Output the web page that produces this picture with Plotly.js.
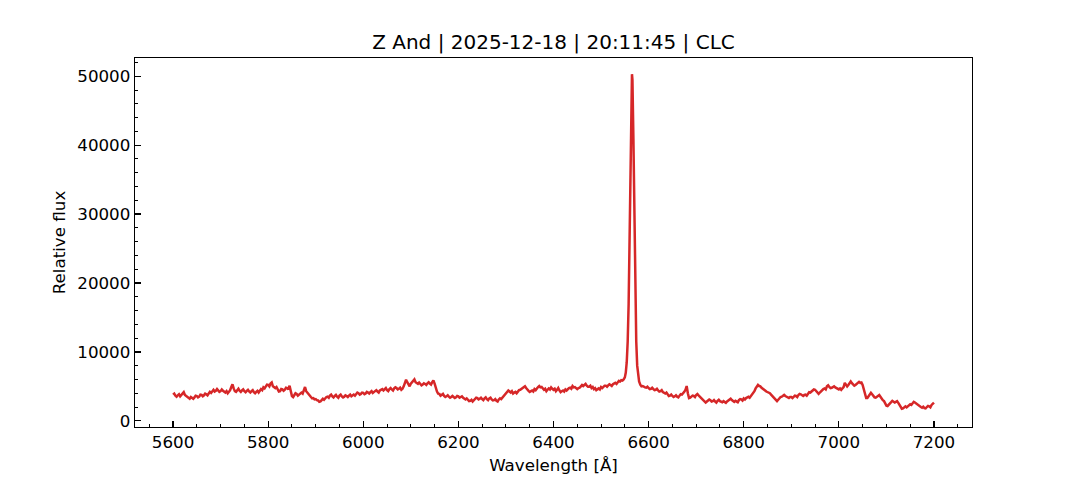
<!DOCTYPE html>
<html>
<head>
<meta charset="utf-8">
<script src="https://cdn.plot.ly/plotly-3.0.1.min.js"></script>
<style>html,body{margin:0;padding:0;background:#fff;}#chart{width:1080px;height:480px;}</style>
</head>
<body>
<div id="chart"></div>
<script>
const titleText = "Z And | 2025-12-18 | 20:11:45 | CLC";
const xLabel = "Wavelength [Å]";
const yLabel = "Relative flux";

// Blue side continuum (5600 - 6547.5 Å)
const wavelengthBlue = [
5600,5602.5,5605,5607.5,5610,5612.5,5615,5617.5,5620,5622.5,
5625,5627.5,5630,5632.5,5635,5637.5,5640,5642.5,5645,5647.5,
5650,5652.5,5655,5657.5,5660,5662.5,5665,5667.5,5670,5672.5,
5675,5677.5,5680,5682.5,5685,5687.5,5690,5692.5,5695,5697.5,
5700,5702.5,5705,5707.5,5710,5712.5,5715,5717.5,5720,5722.5,
5725,5727.5,5730,5732.5,5735,5737.5,5740,5742.5,5745,5747.5,
5750,5752.5,5755,5757.5,5760,5762.5,5765,5767.5,5770,5772.5,
5775,5777.5,5780,5782.5,5785,5787.5,5790,5792.5,5795,5797.5,
5800,5802.5,5805,5807.5,5810,5812.5,5815,5817.5,5820,5822.5,
5825,5827.5,5830,5832.5,5835,5837.5,5840,5842.5,5845,5847.5,
5850,5852.5,5855,5857.5,5860,5862.5,5865,5867.5,5870,5872.5,
5875,5877.5,5880,5882.5,5885,5887.5,5890,5892.5,5895,5897.5,
5900,5902.5,5905,5907.5,5910,5912.5,5915,5917.5,5920,5922.5,
5925,5927.5,5930,5932.5,5935,5937.5,5940,5942.5,5945,5947.5,
5950,5952.5,5955,5957.5,5960,5962.5,5965,5967.5,5970,5972.5,
5975,5977.5,5980,5982.5,5985,5987.5,5990,5992.5,5995,5997.5,
6000,6002.5,6005,6007.5,6010,6012.5,6015,6017.5,6020,6022.5,
6025,6027.5,6030,6032.5,6035,6037.5,6040,6042.5,6045,6047.5,
6050,6052.5,6055,6057.5,6060,6062.5,6065,6067.5,6070,6072.5,
6075,6077.5,6080,6082.5,6085,6087.5,6090,6092.5,6095,6097.5,
6100,6102.5,6105,6107.5,6110,6112.5,6115,6117.5,6120,6122.5,
6125,6127.5,6130,6132.5,6135,6137.5,6140,6142.5,6145,6147.5,
6150,6152.5,6155,6157.5,6160,6162.5,6165,6167.5,6170,6172.5,
6175,6177.5,6180,6182.5,6185,6187.5,6190,6192.5,6195,6197.5,
6200,6202.5,6205,6207.5,6210,6212.5,6215,6217.5,6220,6222.5,
6225,6227.5,6230,6232.5,6235,6237.5,6240,6242.5,6245,6247.5,
6250,6252.5,6255,6257.5,6260,6262.5,6265,6267.5,6270,6272.5,
6275,6277.5,6280,6282.5,6285,6287.5,6290,6292.5,6295,6297.5,
6300,6302.5,6305,6307.5,6310,6312.5,6315,6317.5,6320,6322.5,
6325,6327.5,6330,6332.5,6335,6337.5,6340,6342.5,6345,6347.5,
6350,6352.5,6355,6357.5,6360,6362.5,6365,6367.5,6370,6372.5,
6375,6377.5,6380,6382.5,6385,6387.5,6390,6392.5,6395,6397.5,
6400,6402.5,6405,6407.5,6410,6412.5,6415,6417.5,6420,6422.5,
6425,6427.5,6430,6432.5,6435,6437.5,6440,6442.5,6445,6447.5,
6450,6452.5,6455,6457.5,6460,6462.5,6465,6467.5,6470,6472.5,
6475,6477.5,6480,6482.5,6485,6487.5,6490,6492.5,6495,6497.5,
6500,6502.5,6505,6507.5,6510,6512.5,6515,6517.5,6520,6522.5,
6525,6527.5,6530,6532.5,6535,6537.5,6540,6542.5,6545,6547.5
];
const fluxBlue = [
3800,3950,3650,3500,3700,3850,3550,3800,4000,4150,
3750,3600,3450,3300,3200,3450,3350,3200,3400,3650,
3600,3400,3500,3800,3750,3550,3700,3950,3850,3700,
3950,4200,4050,4300,4500,4250,4350,4600,4450,4200,
4300,4550,4350,4150,4100,4300,4000,4200,4450,4900,
5300,4700,4300,4200,4500,4650,4350,4200,4400,4550,
4300,4150,4350,4500,4250,4100,4300,4450,4150,4000,
4200,4350,4100,4350,4600,4450,4850,4700,5000,5250,
5200,5000,5400,5550,5000,4850,4750,4900,4450,4250,
4300,4600,4550,4350,4500,4800,4750,4550,5100,4300,
3600,3450,3750,4000,3900,3650,3800,4000,4100,3950,
4500,4900,4300,4050,3900,3650,3450,3250,3300,3100,
3150,3000,2950,2750,2800,3000,3200,3050,3300,3450,
3500,3350,3650,3800,3550,3400,3600,3750,3500,3350,
3650,3800,3550,3400,3500,3700,3600,3450,3650,3800,
3550,3700,3800,3650,3950,4100,4000,3800,3900,4100,
4050,3850,3950,4200,4100,3950,4150,4300,4050,4200,
4300,4450,4250,4100,4400,4550,4600,4400,4550,4750,
4450,4300,4600,4750,4550,4400,4700,4850,4750,4550,
4650,4800,4500,4650,5000,5500,5950,5600,5200,5000,
5400,5650,5800,6000,5600,5450,5350,5550,5300,5150,
5250,5450,5350,5200,5450,5600,5400,5250,5600,5850,
5400,4600,4250,3950,3900,3650,3750,3900,3600,3450,
3550,3700,3500,3350,3450,3600,3450,3300,3400,3600,
3550,3350,3450,3550,3350,3200,3100,3250,3000,2850,
2900,3050,2800,2950,3100,3350,3300,3100,3200,3350,
3150,3000,3250,3400,3150,3000,3250,3350,3100,2950,
3000,3150,2900,2800,3100,3250,3150,3350,3600,3850,
4000,4300,4400,4250,4100,4300,3950,4100,4200,4000,
4250,4450,4500,4650,4800,4950,5000,4750,4500,4350,
4200,4350,4400,4250,4600,4450,4750,4900,5050,4850,
4900,4700,4500,4650,4300,4500,4700,4550,4850,4650,
4500,4650,4300,4500,4750,4400,4150,4300,4400,4250,
4550,4400,4600,4750,4800,4650,5050,4850,4900,4750,
4600,4750,4800,5000,5200,5050,5250,5350,5100,4950,
4950,5100,4750,4900,4600,4750,4450,4600,4700,4550,
4900,4750,4950,5100,5100,4950,5150,5300,5200,5050,
5300,5450,5500,5350,5650,5800,5700,5900,5850,6000
];

// H-alpha emission line (6550 - 6582.5 Å)
const wavelengthHalpha = [6550,6552,6554,6556,6558,6560,6562,6564,6565,6566,6568,6570,6572,6574,6576,6578,6580,6582.5];
const fluxHalpha = [6300,7000,8500,11500,17000,25000,36000,46500,50300,49500,41000,29000,18500,11500,8000,6400,5700,5250];

// Red side continuum (6585 - 7200 Å)
const wavelengthRed = [
6585,6587.5,6590,6592.5,6595,6597.5,6600,6602.5,6605,6607.5,
6610,6612.5,6615,6617.5,6620,6622.5,6625,6627.5,6630,6632.5,
6635,6637.5,6640,6642.5,6645,6647.5,6650,6652.5,6655,6657.5,
6660,6662.5,6665,6667.5,6670,6672.5,6675,6677.5,6680,6682.5,
6685,6687.5,6690,6692.5,6695,6697.5,6700,6702.5,6705,6707.5,
6710,6712.5,6715,6717.5,6720,6722.5,6725,6727.5,6730,6732.5,
6735,6737.5,6740,6742.5,6745,6747.5,6750,6752.5,6755,6757.5,
6760,6762.5,6765,6767.5,6770,6772.5,6775,6777.5,6780,6782.5,
6785,6787.5,6790,6792.5,6795,6797.5,6800,6802.5,6805,6807.5,
6810,6812.5,6815,6817.5,6820,6822.5,6825,6827.5,6830,6832.5,
6835,6837.5,6840,6842.5,6845,6847.5,6850,6852.5,6855,6857.5,
6860,6862.5,6865,6867.5,6870,6872.5,6875,6877.5,6880,6882.5,
6885,6887.5,6890,6892.5,6895,6897.5,6900,6902.5,6905,6907.5,
6910,6912.5,6915,6917.5,6920,6922.5,6925,6927.5,6930,6932.5,
6935,6937.5,6940,6942.5,6945,6947.5,6950,6952.5,6955,6957.5,
6960,6962.5,6965,6967.5,6970,6972.5,6975,6977.5,6980,6982.5,
6985,6987.5,6990,6992.5,6995,6997.5,7000,7002.5,7005,7007.5,
7010,7012.5,7015,7017.5,7020,7022.5,7025,7027.5,7030,7032.5,
7035,7037.5,7040,7042.5,7045,7047.5,7050,7052.5,7055,7057.5,
7060,7062.5,7065,7067.5,7070,7072.5,7075,7077.5,7080,7082.5,
7085,7087.5,7090,7092.5,7095,7097.5,7100,7102.5,7105,7107.5,
7110,7112.5,7115,7117.5,7120,7122.5,7125,7127.5,7130,7132.5,
7135,7137.5,7140,7142.5,7145,7147.5,7150,7152.5,7155,7157.5,
7160,7162.5,7165,7167.5,7170,7172.5,7175,7177.5,7180,7182.5,
7185,7187.5,7190,7192.5,7195,7197.5,7200
];
const fluxRed = [
5000,5050,4900,4850,4800,4950,4750,4600,4650,4800,
4600,4450,4500,4650,4400,4250,4300,4450,4150,4000,
3950,4100,3750,3600,3650,3800,3600,3450,3550,3700,
3500,3400,3650,3850,3800,3950,4200,4500,5050,4000,
3300,3350,3500,3650,3600,3450,3750,3900,3700,3500,
3300,3100,3000,2800,2650,2800,2900,3100,3000,2800,
2850,3000,2800,2650,2900,3050,2850,2750,2700,2850,
2650,2600,2800,2950,3100,3200,3000,2850,2750,2900,
2850,2700,3000,3150,3100,2950,3250,3100,3300,3450,
3500,3350,3600,3800,4000,4300,4700,5000,5200,5050,
5000,4800,4700,4500,4400,4250,4200,4050,4000,3800,
3600,3450,3300,3100,2850,3050,3300,3450,3500,3650,
3750,3600,3500,3350,3300,3450,3450,3300,3500,3650,
3600,3450,3750,3900,3850,3700,3600,3750,3800,3650,
4000,4150,4100,4250,4400,4550,4500,4250,4050,3900,
4100,4300,4450,4600,4700,4550,5000,5150,4900,4750,
4800,4950,5000,4850,4750,4600,4550,4700,4500,4700,
4900,5500,5200,5000,5200,5400,5700,5450,5300,5100,
5200,5350,5400,5650,5500,5550,5200,4500,3700,3300,
3300,3600,3900,4050,3850,3600,3400,3350,3500,3650,
3750,3500,3200,3000,2850,2500,2200,2150,2300,2500,
2700,2900,2800,2650,2750,2850,2600,2300,2000,1750,
1800,2000,2100,1950,2100,2250,2400,2300,2600,2750,
2650,2500,2400,2250,2100,2000,1900,2050,1850,1800,
2000,2150,2100,1950,2300,2450,2650
];

const wavelength = wavelengthBlue.concat(wavelengthHalpha, wavelengthRed);
const flux = fluxBlue.concat(fluxHalpha, fluxRed);

const trace = {
  x: wavelength, y: flux, type: 'scatter', mode: 'lines',
  line: {color: '#d62728', width: 2.5},
  hoverinfo: 'skip'
};

const fontFam = "DejaVu Sans, sans-serif";
const layout = {
  width: 1080, height: 480,
  paper_bgcolor: '#ffffff', plot_bgcolor: '#ffffff',
  margin: {l: 135, r: 108, t: 58, b: 53},
  showlegend: false,
  title: {text: titleText, font: {family: fontFam, size: 20, color: '#000'}, x: 0.5, xanchor: 'center', y: 0.912, yanchor: 'middle', xref: 'paper'},
  xaxis: {
    range: [5520, 7280], tickmode: 'linear', tick0: 5600, dtick: 200,
    ticks: 'inside', ticklen: 5.8, tickwidth: 1.3, tickcolor: '#000',
    showline: true, linecolor: '#000', linewidth: 1.3, mirror: true,
    showgrid: false, zeroline: false,
    tickfont: {family: fontFam, size: 16.7, color: '#000'},
    minor: {dtick: 50, tick0: 5600, ticks: 'inside', ticklen: 3.3, tickwidth: 1, tickcolor: '#000', showgrid: false},
    title: {text: xLabel, font: {family: fontFam, size: 16.7, color: '#000'}, standoff: 8}
  },
  yaxis: {
    range: [-900, 52650], tickmode: 'linear', tick0: 0, dtick: 10000, tickformat: 'd',
    ticks: 'inside', ticklen: 5.8, tickwidth: 1.3, tickcolor: '#000',
    showline: true, linecolor: '#000', linewidth: 1.3, mirror: true,
    showgrid: false, zeroline: false,
    tickfont: {family: fontFam, size: 16.7, color: '#000'},
    minor: {dtick: 2000, tick0: 0, ticks: 'inside', ticklen: 3.3, tickwidth: 1, tickcolor: '#000', showgrid: false},
    title: {text: yLabel, font: {family: fontFam, size: 16.7, color: '#000'}, standoff: 7}
  }
};

Plotly.newPlot('chart', [trace], layout, {displayModeBar: false, staticPlot: true});
</script>
</body>
</html>
